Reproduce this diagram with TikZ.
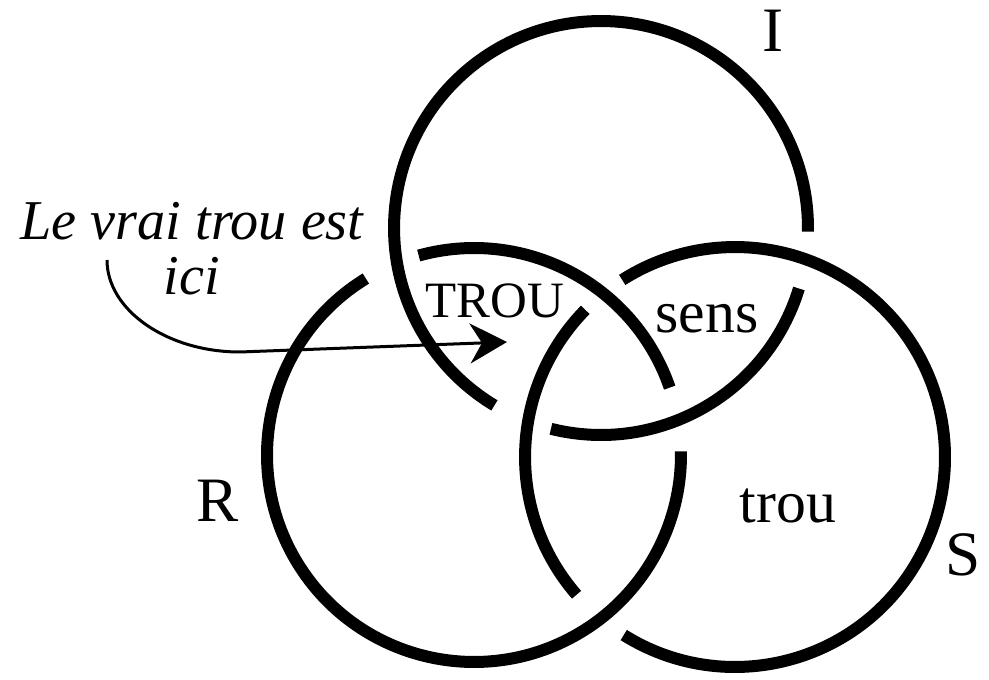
\documentclass[tikz,border=0pt]{standalone}
\usepackage{fontspec}
\setmainfont{Liberation Serif}
\usetikzlibrary{arrows.meta}
\begin{document}
\begin{tikzpicture}[x=0.02cm,y=0.02cm,
  ring/.style={line width=0.24cm, line cap=butt, black},
  arrowline/.style={line width=0.06cm, -{Stealth[length=0.74cm,width=0.8cm,inset=0.24cm]}},
  bigletter/.style={anchor=base, inner sep=0pt, font=\fontsize{36}{40}\selectfont},
  zone/.style={anchor=base, inner sep=0pt, font=\fontsize{34}{38}\selectfont},
  zonecap/.style={anchor=base, inner sep=0pt, font=\fontsize{29}{33}\selectfont},
  note/.style={anchor=base, inner sep=0pt, text depth=0pt, font=\fontsize{32}{35}\selectfont\itshape}]
\useasboundingbox (0,0) rectangle (989,679);
% centres
\coordinate (I) at (601,451);
\coordinate (R) at (474,224);
\coordinate (S) at (735,222);
% ring I (under S twice)
\draw[ring] (I) ++(-1:4.14cm) arc[start angle=-1, end angle=239, radius=4.14cm];
\draw[ring] (I) ++(256:4.14cm) arc[start angle=256, end angle=343, radius=4.14cm];
% ring R (under I twice)
\draw[ring] (R) ++(19:4.14cm) arc[start angle=19, end angle=105.5, radius=4.14cm];
\draw[ring] (R) ++(121.5:4.14cm) arc[start angle=121.5, end angle=361, radius=4.14cm];
% ring S (under R twice)
\draw[ring] (S) ++(135.5:4.2cm) arc[start angle=135.5, end angle=221, radius=4.2cm];
\draw[ring] (S) ++(238:4.2cm) arc[start angle=238, end angle=482.5, radius=4.2cm];
% labels
\node[bigletter] (lI) at (773,627) {I};
\node[bigletter] (lR) at (218,157) {R};
\node[bigletter] (lS) at (963,104) {S};
\node[zonecap] (trou1) at (495,361) {TROU};
\node[zone] (sens) at (707,346) {sens};
\node[zone] (trou2) at (788,156) {trou};
\node[note] (note1) at (192,439) {Le vrai trou est};
\node[note] (note2) at (192,384) {ici};
% arrow
\coordinate (astart) at (107,419);
\coordinate (tip) at (507,337);
\draw[arrowline] (astart) .. controls (107,369) and (167,327) .. (240,327) -- (tip);
\end{tikzpicture}
\end{document}
